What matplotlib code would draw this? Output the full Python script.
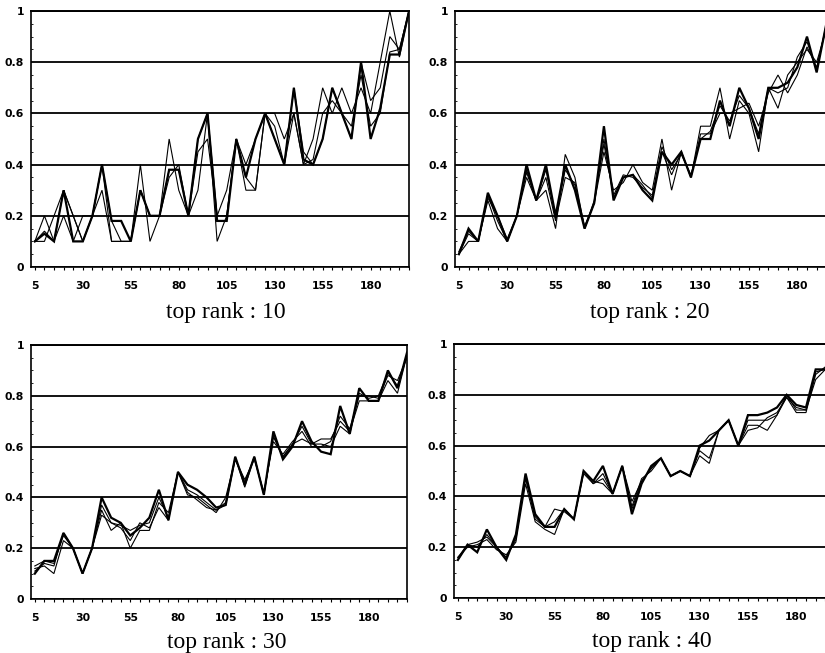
import matplotlib
matplotlib.use("Agg")
import matplotlib.pyplot as plt
from matplotlib.ticker import FixedLocator, MultipleLocator
import numpy as np

x_values = list(range(5, 205, 5))
x_tick_values = [5, 30, 55, 80, 105, 130, 155, 180]
y_tick_values = [0, 0.2, 0.4, 0.6, 0.8, 1.0]
y_tick_labels = ["0", "0.2", "0.4", "0.6", "0.8", "1"]
panel_titles = ["top rank : 10", "top rank : 20", "top rank : 30", "top rank : 40"]

rank10_a = [0.10,0.13,0.10,0.30,0.10,0.10,0.20,0.40,0.18,0.18, 0.10,0.30,0.20,0.20,0.38,0.38,0.20,0.50,0.60,0.18,
            0.18,0.50,0.35,0.50,0.60,0.50,0.40,0.70,0.42,0.40, 0.50,0.70,0.60,0.50,0.80,0.50,0.62,0.83,0.83,1.00]
rank10_b = [0.10,0.20,0.10,0.20,0.10,0.20,0.20,0.30,0.10,0.10, 0.10,0.40,0.10,0.20,0.50,0.30,0.20,0.30,0.60,0.10,
            0.20,0.50,0.30,0.30,0.60,0.60,0.50,0.60,0.40,0.50, 0.70,0.60,0.70,0.60,0.70,0.60,0.80,1.00,0.82,1.00]
rank10_c = [0.10,0.10,0.20,0.30,0.20,0.10,0.20,0.40,0.18,0.10, 0.10,0.30,0.20,0.20,0.35,0.40,0.20,0.50,0.60,0.20,
            0.20,0.50,0.35,0.30,0.60,0.55,0.40,0.70,0.45,0.40, 0.50,0.70,0.60,0.50,0.80,0.65,0.70,0.90,0.85,1.00]
rank10_d = [0.10,0.14,0.10,0.30,0.20,0.10,0.20,0.40,0.10,0.10, 0.10,0.30,0.20,0.20,0.38,0.38,0.20,0.45,0.50,0.20,
            0.30,0.50,0.40,0.50,0.60,0.50,0.40,0.60,0.40,0.42, 0.60,0.65,0.60,0.55,0.75,0.55,0.60,0.84,0.85,1.00]

rank20_a = [0.05,0.15,0.10,0.29,0.20,0.10,0.20,0.40,0.26,0.40, 0.20,0.40,0.30,0.15,0.25,0.55,0.26,0.35,0.36,0.30,
            0.26,0.45,0.40,0.45,0.35,0.50,0.50,0.65,0.55,0.70, 0.62,0.50,0.70,0.70,0.72,0.78,0.90,0.76,0.95,0.97]
rank20_b = [0.05,0.10,0.10,0.26,0.15,0.10,0.20,0.35,0.26,0.30, 0.15,0.44,0.35,0.15,0.25,0.45,0.30,0.33,0.40,0.33,
            0.30,0.50,0.30,0.45,0.35,0.55,0.55,0.70,0.50,0.65, 0.60,0.45,0.70,0.62,0.75,0.80,0.85,0.80,0.93,0.97]
rank20_c = [0.05,0.13,0.10,0.28,0.18,0.10,0.20,0.38,0.26,0.35, 0.18,0.35,0.33,0.16,0.25,0.50,0.27,0.35,0.36,0.32,
            0.27,0.45,0.36,0.45,0.35,0.52,0.52,0.60,0.60,0.62, 0.64,0.55,0.68,0.75,0.68,0.75,0.86,0.78,0.94,0.97]
rank20_d = [0.06,0.14,0.10,0.27,0.20,0.11,0.20,0.37,0.26,0.38, 0.19,0.38,0.32,0.15,0.26,0.48,0.28,0.36,0.35,0.31,
            0.28,0.47,0.38,0.44,0.36,0.50,0.53,0.63,0.57,0.67, 0.62,0.52,0.70,0.68,0.70,0.82,0.88,0.77,0.95,0.97]

rank30_a = [0.10,0.15,0.15,0.26,0.20,0.10,0.20,0.40,0.32,0.30, 0.25,0.28,0.32,0.43,0.31,0.50,0.45,0.43,0.40,0.36,
            0.37,0.56,0.45,0.56,0.41,0.66,0.55,0.60,0.70,0.62, 0.58,0.57,0.76,0.65,0.83,0.78,0.78,0.90,0.83,0.97]
rank30_b = [0.12,0.13,0.10,0.23,0.20,0.10,0.20,0.35,0.27,0.30, 0.20,0.27,0.27,0.38,0.34,0.50,0.41,0.40,0.37,0.34,
            0.40,0.55,0.47,0.55,0.42,0.62,0.57,0.62,0.66,0.60, 0.60,0.62,0.72,0.67,0.80,0.80,0.79,0.88,0.86,0.95]
rank30_c = [0.13,0.15,0.14,0.25,0.20,0.10,0.20,0.33,0.30,0.28, 0.23,0.30,0.28,0.36,0.31,0.50,0.42,0.39,0.36,0.35,
            0.37,0.55,0.46,0.56,0.41,0.64,0.56,0.61,0.63,0.61, 0.63,0.63,0.70,0.66,0.78,0.78,0.78,0.86,0.81,0.96]
rank30_d = [0.11,0.14,0.13,0.26,0.20,0.10,0.20,0.37,0.30,0.29, 0.27,0.29,0.30,0.40,0.32,0.50,0.43,0.41,0.38,0.35,
            0.38,0.56,0.44,0.56,0.41,0.64,0.56,0.61,0.68,0.61, 0.61,0.60,0.68,0.65,0.81,0.79,0.80,0.89,0.84,0.96]

rank40_a = [0.15,0.21,0.18,0.27,0.20,0.15,0.25,0.49,0.33,0.28, 0.28,0.35,0.31,0.50,0.46,0.52,0.41,0.52,0.33,0.45,
            0.52,0.55,0.48,0.50,0.48,0.60,0.62,0.66,0.70,0.60, 0.72,0.72,0.73,0.75,0.80,0.76,0.75,0.90,0.90,0.96]
rank40_b = [0.16,0.20,0.21,0.23,0.19,0.17,0.22,0.45,0.30,0.27, 0.25,0.35,0.31,0.49,0.45,0.47,0.41,0.52,0.36,0.47,
            0.50,0.55,0.48,0.50,0.48,0.58,0.55,0.66,0.70,0.60, 0.70,0.70,0.70,0.72,0.79,0.73,0.73,0.88,0.91,0.96]
rank40_c = [0.15,0.21,0.22,0.24,0.20,0.16,0.24,0.47,0.31,0.28, 0.35,0.34,0.31,0.50,0.46,0.45,0.41,0.52,0.38,0.46,
            0.51,0.55,0.48,0.50,0.48,0.56,0.53,0.66,0.70,0.60, 0.68,0.68,0.66,0.72,0.80,0.74,0.74,0.86,0.90,0.95]
rank40_d = [0.16,0.21,0.20,0.25,0.20,0.16,0.23,0.48,0.32,0.28, 0.30,0.35,0.31,0.50,0.45,0.49,0.41,0.52,0.35,0.46,
            0.51,0.55,0.48,0.50,0.48,0.59,0.64,0.66,0.70,0.60, 0.66,0.67,0.71,0.73,0.79,0.75,0.74,0.89,0.90,0.96]

panels = [
    [rank10_a, rank10_b, rank10_c, rank10_d],
    [rank20_a, rank20_b, rank20_c, rank20_d],
    [rank30_a, rank30_b, rank30_c, rank30_d],
    [rank40_a, rank40_b, rank40_c, rank40_d],
]

W, H = 825, 653
fig = plt.figure(figsize=(W / 100, H / 100), dpi=100)

# axes rectangles in pixels: left, top, right, bottom
rects_px = [
    (31, 11, 409, 267),
    (455, 11, 836, 267),
    (31, 345, 407, 599),
    (454, 344, 835, 598),
]
# title centre x and baseline y in pixels
title_pos_px = [(226, 318), (650, 318), (227, 648), (652, 647)]

for k, (l, t, r, b) in enumerate(rects_px):
    ax = fig.add_axes([l / W, 1 - b / H, (r - l) / W, (b - t) / H])
    series = panels[k]
    for j, s in enumerate(series):
        ax.plot(x_values, s, color="black", lw=1.6 if j == 0 else 0.8,
                solid_joinstyle="miter", zorder=3)
    ax.set_xlim(3, 200)
    ax.set_ylim(0, 1)
    ax.xaxis.set_major_locator(FixedLocator(x_tick_values))
    ax.xaxis.set_minor_locator(MultipleLocator(5))
    ax.set_xticklabels([str(v) for v in x_tick_values])
    ax.set_yticks(y_tick_values)
    ax.set_yticklabels(y_tick_labels)
    ax.yaxis.set_minor_locator(MultipleLocator(0.05))
    for lab in ax.get_xticklabels() + ax.get_yticklabels():
        lab.set_fontfamily("DejaVu Sans")
        lab.set_fontweight("bold")
        lab.set_fontsize(7.8)
    ax.tick_params(axis="x", which="major", length=2, pad=8, width=0.8)
    ax.tick_params(axis="x", which="minor", length=2, width=0.8)
    ax.tick_params(axis="y", which="major", length=0, pad=5)
    ax.tick_params(axis="y", which="minor", length=1.5, width=0.6, direction="in")
    ax.grid(axis="y", which="major", color="black", lw=1.3, zorder=1)
    for sp in ax.spines.values():
        sp.set_color("black")
        sp.set_linewidth(1.2)
    ax.spines["top"].set_linewidth(1.4)
    tx, ty = title_pos_px[k]
    fig.text(tx / W, 1 - ty / H, panel_titles[k], ha="center", va="baseline",
             fontfamily="Liberation Serif", fontsize=17)

fig.savefig("out.png", dpi=100)
